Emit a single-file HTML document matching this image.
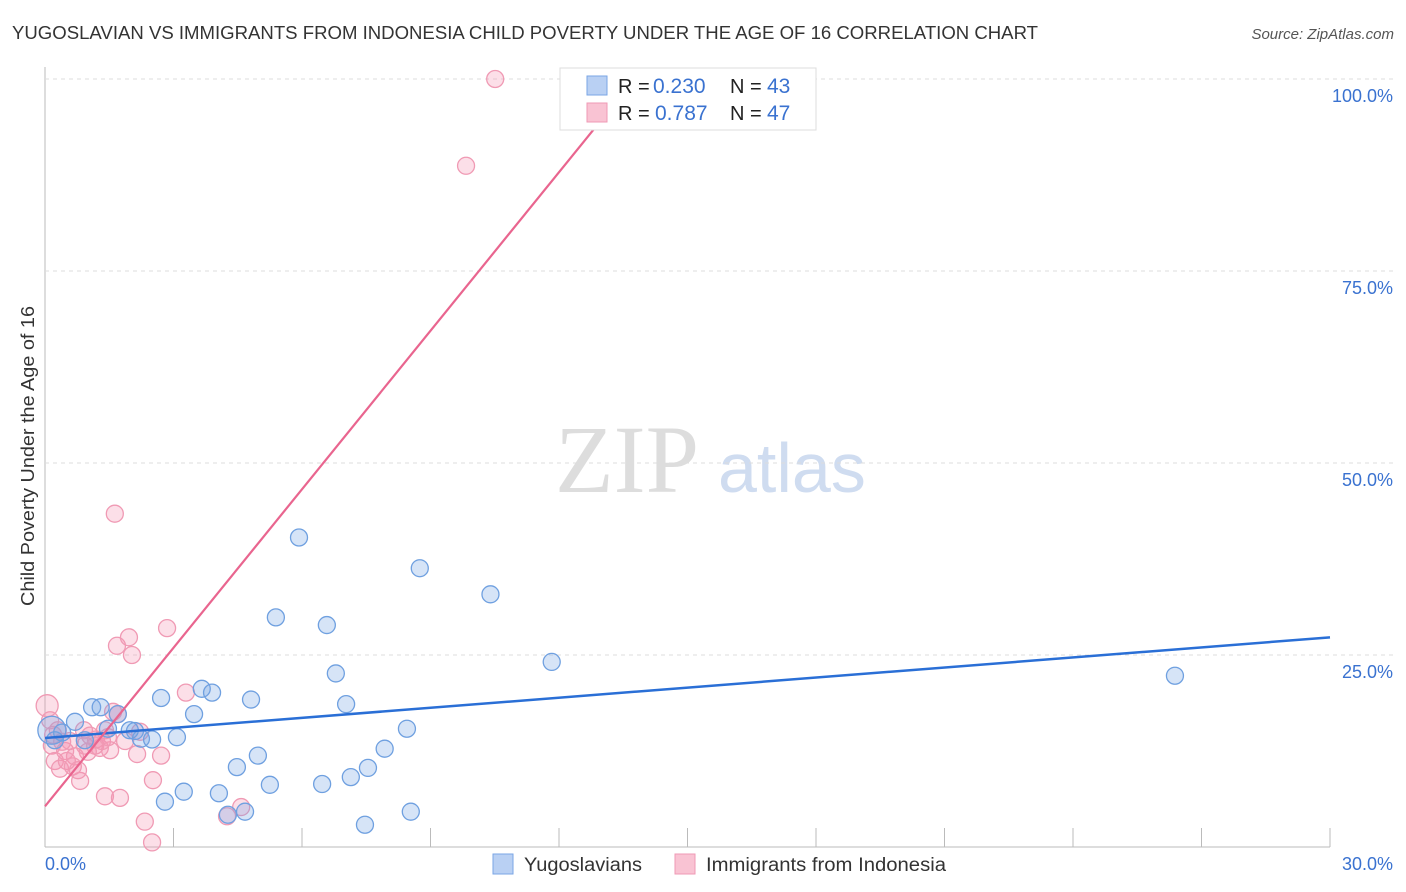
<!DOCTYPE html>
<html><head><meta charset="utf-8"><style>
body{margin:0;background:#fff;font-family:"Liberation Sans",sans-serif}
svg{display:block}
</style></head><body>
<svg id="c" width="1406" height="892">
<text x="12" y="39" font-size="18" fill="#333" textLength="1026" lengthAdjust="spacingAndGlyphs">YUGOSLAVIAN VS IMMIGRANTS FROM INDONESIA CHILD POVERTY UNDER THE AGE OF 16 CORRELATION CHART</text>
<text x="1394" y="39" font-size="15" fill="#555" font-style="italic" text-anchor="end">Source: ZipAtlas.com</text>
<text transform="translate(34,456) rotate(-90)" font-size="18" fill="#333" text-anchor="middle" textLength="300" lengthAdjust="spacingAndGlyphs">Child Poverty Under the Age of 16</text>
<text x="555" y="492" font-size="96" fill="#ddd" font-family="Liberation Serif,serif">ZIP</text>
<text x="718" y="492" font-size="70" fill="#cfdcf0">atlas</text>
<g id="grid"></g><g id="pts"></g><g id="lines"></g>
<g>
<rect x="560" y="68" width="256" height="62" fill="#fff" stroke="#ddd"/>
<rect x="587" y="76" width="20" height="19" fill="#b9d0f3" stroke="#7aa6e6"/>
<rect x="587" y="103" width="20" height="19" fill="#f9c3d3" stroke="#ef9ab5"/>
<text x="618" y="93" font-size="20" fill="#222">R =</text>
<text x="653" y="93" font-size="21" fill="#3a72d0">0.230</text>
<text x="730" y="93" font-size="20" fill="#222">N =</text>
<text x="767" y="93" font-size="21" fill="#3a72d0">43</text>
<text x="618" y="120" font-size="20" fill="#222">R =</text>
<text x="655" y="120" font-size="21" fill="#3a72d0">0.787</text>
<text x="730" y="120" font-size="20" fill="#222">N =</text>
<text x="767" y="120" font-size="21" fill="#3a72d0">47</text>
</g>
<g>
<rect x="493" y="854" width="20" height="20" fill="#b9d0f3" stroke="#7aa6e6"/>
<text x="524" y="871" font-size="19" fill="#333" textLength="118" lengthAdjust="spacingAndGlyphs">Yugoslavians</text>
<rect x="675" y="854" width="20" height="20" fill="#f9c3d3" stroke="#ef9ab5"/>
<text x="706" y="871" font-size="19" fill="#333" textLength="240" lengthAdjust="spacingAndGlyphs">Immigrants from Indonesia</text>
</g>
</svg>
<script>
const yTicks=[25,50,75,100];
const xTickLabels=["0.0%","30.0%"];
const blueX=[0.16,0.7,0.4,1.1,1.3,1.47,1.7,2.1,2.24,2.5,2.71,2.8,3.08,3.24,3.48,3.66,3.9,4.06,4.27,4.48,4.67,4.81,4.97,5.25,5.39,5.93,6.47,6.58,6.79,7.03,7.14,7.47,7.54,7.93,8.45,8.54,8.75,10.4,11.83,26.38,0.23,0.93,1.98];
const blueY=[15.2,16.3,14.9,18.2,18.2,15.4,17.3,15.1,14.1,14.0,19.4,5.9,14.3,7.2,17.3,20.6,20.1,7.0,4.2,10.4,4.6,19.2,11.9,8.1,29.9,40.3,8.2,28.9,22.6,18.6,9.1,2.9,10.3,12.8,15.4,4.6,36.3,32.9,24.1,22.3,13.9,13.9,15.2];
const pinkX=[0.05,0.12,0.16,0.23,0.35,0.47,0.58,0.7,0.82,0.93,1.05,1.17,1.28,1.4,1.52,1.59,1.7,1.4,1.75,1.63,1.68,1.96,2.03,2.15,2.22,2.33,2.5,2.52,2.71,2.85,3.29,4.25,4.58,9.83,10.51,0.3,0.51,0.65,1.0,1.19,1.33,1.47,0.4,0.77,0.91,1.87,0.19];
const pinkY=[18.4,16.5,13.2,11.2,10.2,12.5,13.8,11.8,8.6,13.2,14.5,13.2,12.9,15.2,12.6,17.6,17.3,6.6,6.4,43.4,26.2,27.3,25.0,12.1,15.0,3.3,0.6,8.7,11.9,28.5,20.1,4.0,5.2,88.7,100,15.2,11.2,10.5,12.4,14.0,13.8,14.3,13.7,10.0,15.2,13.8,14.6];
const blueLine=[14.2,27.3];
const pinkIntercept=5.3, pinkSlope=6.88;
const X=v=>45+v/30*1285, Y=v=>847-v*7.68;
const NS="http://www.w3.org/2000/svg";
function mk(t,a,p){const e=document.createElementNS(NS,t);for(const k in a)e.setAttribute(k,a[k]);p.appendChild(e);return e;}
const g=document.getElementById('grid');
let ax=mk('line',{x1:45,y1:67,x2:45,y2:847,stroke:'#bbb'},g);


let bx=mk('line',{x1:45,y1:847,x2:1330,y2:847,stroke:'#bbb'},g);


yTicks.forEach(t=>{
 let l=mk('line',{x1:45,y1:Y(t),x2:1393,y2:Y(t),stroke:'#ddd','stroke-dasharray':'4,4'},g);
 
 
 let tx=mk('text',{x:1393,y:Y(t)+23,'font-size':18,fill:'#3a72d0','text-anchor':'end'},g);
 tx.textContent=t.toFixed(1)+'%';
 
 
});
for(let i=1;i<=10;i++){let x=45+i*128.5;let l=mk('line',{x1:x,y1:828,x2:x,y2:847,stroke:'#bbb'},g);
 
 }
[[45,'start'],[1393,'end']].forEach((p,i)=>{let t=mk('text',{x:p[0],y:870,'font-size':18,fill:'#3a72d0','text-anchor':p[1]},g);t.textContent=xTickLabels[i];
 
 });
const P=document.getElementById('pts');
pinkX.forEach((x,i)=>{let c=mk('circle',{cx:X(x),cy:Y(pinkY[i]),r:i==0?11:8.5,fill:'rgba(244,150,180,0.3)',stroke:'#f09ab4','stroke-width':1.3},P);
 
 });
blueX.forEach((x,i)=>{let c=mk('circle',{cx:X(x),cy:Y(blueY[i]),r:i==0?14:8.5,fill:'rgba(120,165,230,0.3)',stroke:'#6fa0e0','stroke-width':1.3},P);
 
 });
const L=document.getElementById('lines');
let bl=mk('line',{x1:X(0),y1:Y(blueLine[0]),x2:X(30),y2:Y(blueLine[1]),stroke:'#2a6fd6','stroke-width':2.5},L);


const xe=(100-pinkIntercept)/pinkSlope;
let pl=mk('line',{x1:X(0),y1:Y(pinkIntercept),x2:X(xe),y2:Y(100),stroke:'#e9658f','stroke-width':2.2},L);


</script>
</body></html>
